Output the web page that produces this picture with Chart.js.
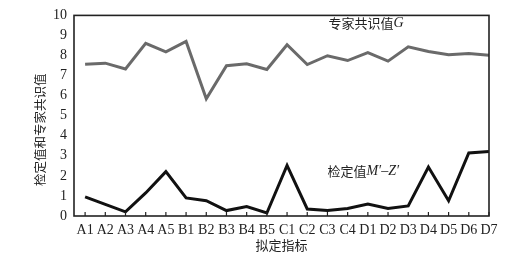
<!DOCTYPE html>
<html><head><meta charset="utf-8">
<script src="https://cdn.jsdelivr.net/npm/chart.js@4/dist/chart.umd.min.js"></script>
<style>html,body{margin:0;padding:0;background:#fff}#wrap{width:525px;height:263px}</style>
</head><body><div id="wrap"><canvas id="c" width="525" height="263"></canvas></div>
<script>
const categories = ['A1','A2','A3','A4','A5','B1','B2','B3','B4','B5','C1','C2','C3','C4','D1','D2','D3','D4','D5','D6','D7'];
const expertG = [7.57,7.62,7.33,8.61,8.18,8.70,5.84,7.49,7.59,7.30,8.54,7.55,7.99,7.75,8.14,7.72,8.43,8.20,8.04,8.10,8.01];
const checkMZ = [0.95,0.58,0.21,1.15,2.21,0.90,0.76,0.27,0.47,0.15,2.52,0.35,0.27,0.37,0.60,0.37,0.50,2.44,0.76,3.14,3.22];
const yTicks = [0,1,2,3,4,5,6,7,8,9,10];
const yTitle = '检定值和专家共识值';

const serif = "'Liberation Serif','DejaVu Serif',serif";
const cjk = "'Noto Sans CJK SC','Noto Sans CJK JP',sans-serif";

const deco = {
  id:'deco',
  afterDraw(chart){
    const {ctx, chartArea:a, scales:{x,y}} = chart;
    ctx.save();
    ctx.strokeStyle = '#222';
    ctx.lineWidth = 1.6;
    ctx.strokeRect(a.left, a.top, a.right-a.left, a.bottom-a.top);
    ctx.lineWidth = 1.2;
    categories.forEach((c,i)=>{
      const px = x.getPixelForValue(i);
      ctx.beginPath(); ctx.moveTo(px, a.bottom); ctx.lineTo(px, a.bottom-4); ctx.stroke();
    });
    ctx.fillStyle = '#222';
    ctx.textBaseline = 'middle';
    let gx = x.getPixelForValue(12.05), gy = y.getPixelForValue(9.6);
    ctx.font = "13px " + cjk;
    ctx.textAlign = 'left';
    const t1 = '专家共识值';
    ctx.fillText(t1, gx, gy);
    let w1 = ctx.measureText(t1).width;
    ctx.font = "italic 14px " + serif;
    ctx.fillText('G', gx + w1, gy);
    let mx = x.getPixelForValue(12.0), my = y.getPixelForValue(2.25);
    ctx.font = "13px " + cjk;
    const t2 = '检定值';
    ctx.fillText(t2, mx, my);
    let w2 = ctx.measureText(t2).width;
    ctx.font = "italic 14px " + serif;
    ctx.fillText('M\u2032\u2013Z\u2032', mx + w2, my);
    // y title
    ctx.translate(40, y.getPixelForValue(4.3));
    ctx.rotate(-Math.PI/2);
    ctx.textAlign = 'center';
    ctx.font = "12.5px " + cjk;
    ctx.fillText(yTitle, 0, 0);
    ctx.restore();
  }
};

new Chart(document.getElementById('c'), {
  type:'line',
  data:{
    datasets:[
      {label:'专家共识值G', data: expertG.map((v,i)=>({x:i,y:v})), borderColor:'#6a6a6a', borderWidth:3, pointRadius:0, tension:0, fill:false},
      {label:'检定值M′−Z′', data: checkMZ.map((v,i)=>({x:i,y:v})), borderColor:'#111', borderWidth:3, pointRadius:0, tension:0, fill:false}
    ]
  },
  options:{
    responsive:false, animation:false, devicePixelRatio:1,
    layout:{padding:{top:10,right:36,left:0,bottom:0}},
    plugins:{legend:{display:false}, tooltip:{enabled:false}},
    scales:{
      x:{type:'linear', min:-0.55, max:20,
        afterBuildTicks(s){ s.ticks = categories.map((c,i)=>({value:i})); },
        afterFit(s){ s.height = 47; },
        grid:{display:false, drawTicks:false}, border:{display:false},
        ticks:{autoSkip:false, maxRotation:0, padding:6, color:'#222', font:{family:serif, size:14},
          callback:(v)=>categories[v] ?? ''},
        title:{display:true, text:'拟定指标', color:'#222', font:{family:cjk, size:13}, padding:{top:0,bottom:10}}
      },
      y:{min:0, max:10,
        afterBuildTicks(s){ s.ticks = yTicks.map(v=>({value:v})); },
        afterFit(s){ s.width = 74; },
        grid:{display:false, drawTicks:false}, border:{display:false},
        ticks:{padding:7, color:'#222', font:{family:serif, size:14}},
        title:{display:false}
      }
    }
  },
  plugins:[deco]
});
</script>
</body></html>
